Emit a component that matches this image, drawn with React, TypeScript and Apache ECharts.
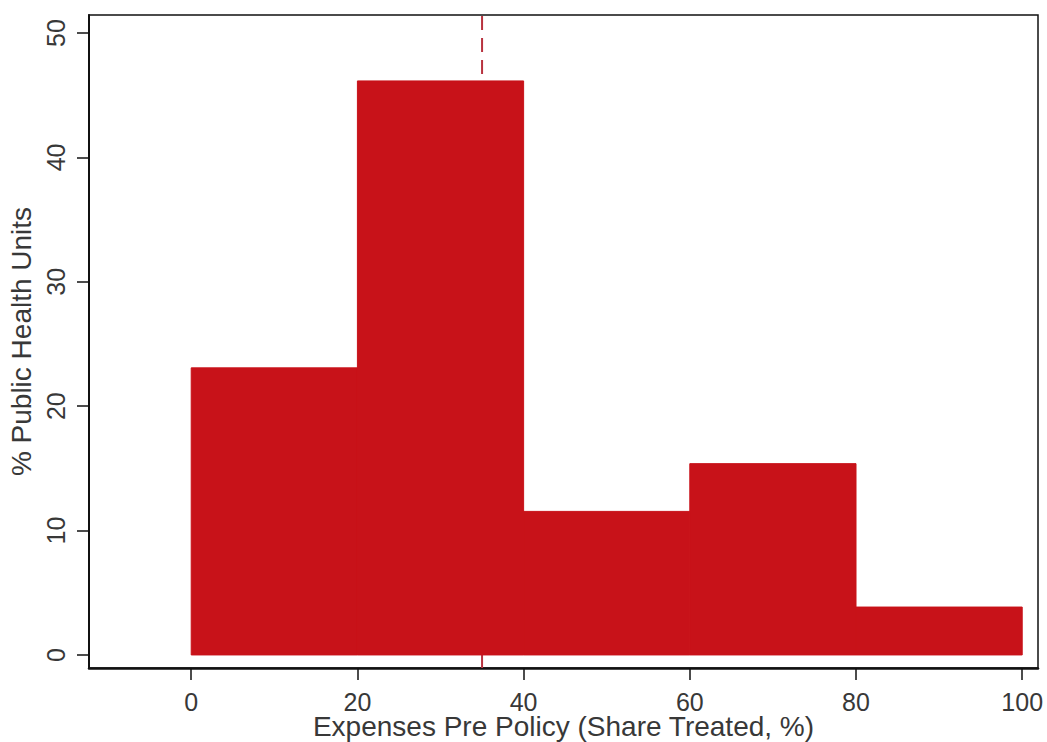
import React, { useEffect, useRef } from "react";
import * as echarts from "echarts";

// Histogram bins (share treated, %) and the share of public health units in each
const binStarts = [0, 20, 40, 60, 80];
const binEnds = [20, 40, 60, 80, 100];
const shares = [23.08, 46.15, 11.54, 15.38, 3.85];

// Reference cut-off drawn as a dashed vertical line
const cutoff = 35;

const xTicks = [0, 20, 40, 60, 80, 100];
const yTicks = [0, 10, 20, 30, 40, 50];

const xTitle = "Expenses Pre Policy (Share Treated, %)";
const yTitle = "% Public Health Units";

const X_MIN = -12.3;
const X_MAX = 101.9;
const Y_MIN = -1.05;
const Y_MAX = 51.45;

const BAR_COLOR = "#c81219";
const LINE_COLOR = "#b8323f";
const TEXT_COLOR = "#383838";
const FONT = "'Liberation Sans', Arial, sans-serif";

export default function App() {
  const ref = useRef<HTMLDivElement>(null);

  useEffect(() => {
    if (!ref.current) return;
    const chart = echarts.init(ref.current, null, { renderer: "svg" });

    const bins = binStarts.map((s, i) => [s, binEnds[i], shares[i]]);

    chart.setOption({
      animation: false,
      backgroundColor: "#ffffff",
      textStyle: { fontFamily: FONT },
      grid: {
        left: 89,
        right: 9,
        top: 15,
        bottom: 74,
        containLabel: false,
        outerBoundsMode: "none",
        show: true,
        borderColor: "#111111",
        borderWidth: 1.5,
        backgroundColor: "#ffffff",
      },
      xAxis: {
        type: "value",
        min: X_MIN,
        max: X_MAX,
        splitLine: { show: false },
        axisLine: { show: true, onZero: false, lineStyle: { color: "#111111", width: 2.5 } },
        axisTick: {
          show: true,
          length: 12,
          customValues: xTicks,
          lineStyle: { color: "#111111", width: 1.5 },
        },
        axisLabel: {
          customValues: xTicks,
          color: TEXT_COLOR,
          fontSize: 25,
          lineHeight: 19,
          fontFamily: FONT,
          margin: 24,
        },
        name: xTitle,
        nameLocation: "middle",
        nameMoveOverlap: false,
        nameGap: 47,
        nameTextStyle: { color: TEXT_COLOR, fontSize: 28, lineHeight: 22, fontFamily: FONT },
      },
      yAxis: {
        type: "value",
        min: Y_MIN,
        max: Y_MAX,
        splitLine: { show: false },
        axisLine: { show: true, onZero: false, lineStyle: { color: "#111111", width: 2 } },
        axisTick: {
          show: true,
          length: 12,
          customValues: yTicks,
          lineStyle: { color: "#111111", width: 1.5 },
        },
        axisLabel: {
          customValues: yTicks,
          rotate: 90,
          color: TEXT_COLOR,
          fontSize: 25,
          fontFamily: FONT,
          margin: 21,
        },
        name: yTitle,
        nameLocation: "middle",
        nameRotate: 90,
        nameGap: 52,
        nameTextStyle: { color: TEXT_COLOR, fontSize: 28, fontFamily: FONT },
      },
      series: [
        {
          // dashed cut-off line, spanning the full plot height behind the bars
          type: "line",
          z: 1,
          silent: true,
          symbol: "none",
          lineStyle: { type: [14, 8], color: LINE_COLOR, width: 2 },
          data: [
            [cutoff, Y_MIN],
            [cutoff, Y_MAX],
          ],
        },
        {
          type: "custom",
          z: 2,
          silent: true,
          data: bins,
          encode: { x: [0, 1], y: 2 },
          renderItem: (_params: any, api: any) => {
            const topLeft = api.coord([api.value(0), api.value(2)]);
            const bottomRight = api.coord([api.value(1), 0]);
            return {
              type: "rect",
              shape: {
                x: topLeft[0],
                y: topLeft[1],
                width: bottomRight[0] - topLeft[0],
                height: bottomRight[1] - topLeft[1],
              },
              style: { fill: BAR_COLOR, stroke: BAR_COLOR, lineWidth: 1 },
            };
          },
        },
      ],
    });

    return () => chart.dispose();
  }, []);

  return (
    <div
      ref={ref}
      style={{ position: "fixed", left: 0, top: 0, width: 1047, height: 742 }}
    />
  );
}
